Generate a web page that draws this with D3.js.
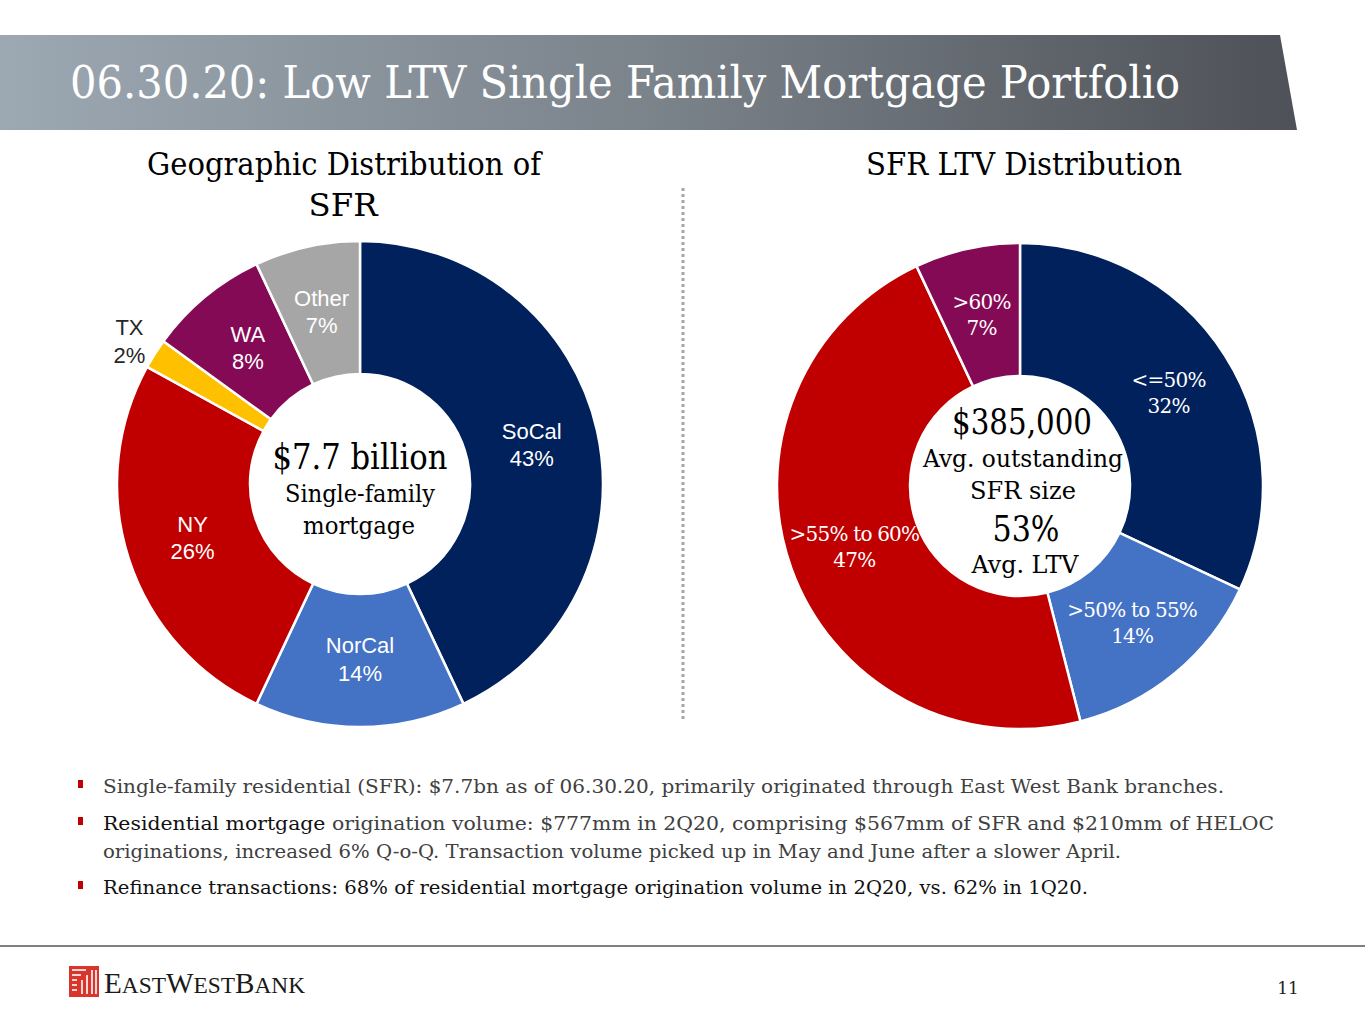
<!DOCTYPE html>
<html>
<head>
<meta charset="utf-8">
<script src="https://cdn.jsdelivr.net/npm/d3@7"></script>
<style>
  body { margin: 0; background: #fff; }
  svg { display: block; }
</style>
</head>
<body>
<svg id="slide" width="1365" height="1024"></svg>
<script>
// data
var geoLabels = ["SoCal", "NorCal", "NY", "TX", "WA", "Other"];
var geoValues = [43, 14, 26, 2, 8, 7];
var geoColors = ["#00215b", "#4472c4", "#c00000", "#ffc000", "#850a55", "#a6a6a6"];

var ltvLabels = ["<=50%", ">50% to 55%", ">55% to 60%", ">60%"];
var ltvValues = [32, 14, 47, 7];
var ltvColors = ["#00215b", "#4472c4", "#c00000", "#850a55"];

var bullets = [
  [["Single-family residential (SFR): $7.7bn as of 06.30.20, primarily originated through East West Bank branches.", "#404040"]],
  [["Residential mortgage", "#111"], [" origination volume: $777mm in 2Q20, comprising $567mm of SFR and $210mm of HELOC", "#404040"]],
  [["originations, increased 6% Q-o-Q. Transaction volume picked up in May and June after a slower April.", "#404040"]],
  [["Refinance transactions: 68% of residential mortgage origination volume in 2Q20, vs. 62% in 1Q20.", "#111"]]
];

var serif = "'DejaVu Serif', serif",
    sans = "'Liberation Sans', Arial, sans-serif";

var svg = d3.select("#slide");

// header band
var grad = svg.append("defs").append("linearGradient")
    .attr("id", "hdr").attr("x1", "0%").attr("x2", "100%").attr("y1", "0%").attr("y2", "0%");
grad.append("stop").attr("offset", "0%").attr("stop-color", "#9ca8b2");
grad.append("stop").attr("offset", "50%").attr("stop-color", "#7b838b");
grad.append("stop").attr("offset", "100%").attr("stop-color", "#4e5157");

svg.append("polygon")
    .attr("points", "0,35 1280,35 1297,130 0,130")
    .attr("fill", "url(#hdr)");

svg.append("text")
    .attr("x", 70).attr("y", 98)
    .attr("fill", "#fff")
    .attr("font-family", serif).attr("font-size", 44)
    .attr("textLength", 1110).attr("lengthAdjust", "spacingAndGlyphs")
    .text("06.30.20: Low LTV Single Family Mortgage Portfolio");

function txt(x, y, s, size, w, fill) {
  var t = svg.append("text")
      .attr("x", x).attr("y", y)
      .attr("text-anchor", "middle")
      .attr("font-family", serif).attr("font-size", size)
      .attr("fill", fill || "#000")
      .text(s);
  if (w) t.attr("textLength", w).attr("lengthAdjust", "spacingAndGlyphs");
  return t;
}

// panel titles
txt(344, 175, "Geographic Distribution of", 31, 394);
txt(343, 216, "SFR", 31, 69);
txt(1024, 175, "SFR LTV Distribution", 31, 316);

// divider
svg.append("line")
    .attr("x1", 683).attr("x2", 683).attr("y1", 188).attr("y2", 720)
    .attr("stroke", "#a6a6a6").attr("stroke-width", 3)
    .attr("stroke-dasharray", "3,3");

var outerR = 243, innerR = 110, labelR = 176;
var pie = d3.pie().sort(null).value(function (d) { return d; });
var arc = d3.arc().innerRadius(innerR).outerRadius(outerR);
var labelArc = d3.arc().innerRadius(labelR).outerRadius(labelR);
var outsideArc = d3.arc().innerRadius(273).outerRadius(273);

// left donut: geography
var g1 = svg.append("g").attr("transform", "translate(360,484)");
var geoArcs = pie(geoValues);
g1.selectAll("path").data(geoArcs).enter().append("path")
    .attr("d", arc)
    .attr("fill", function (d, i) { return geoColors[i]; })
    .attr("stroke", "#fff").attr("stroke-width", 2.5);

var gl = g1.selectAll(".lbl").data(geoArcs).enter().append("text")
    .attr("class", "lbl")
    .attr("transform", function (d, i) {
      var c = (geoLabels[i] === "TX" ? outsideArc : labelArc).centroid(d);
      return "translate(" + c + ")";
    })
    .attr("text-anchor", "middle")
    .attr("font-family", sans).attr("font-size", 22)
    .attr("fill", function (d, i) { return geoLabels[i] === "TX" ? "#262626" : "#fff"; });
gl.append("tspan").attr("x", 0)
    .attr("dy", function (d, i) { return geoLabels[i] === "TX" ? "-0.12em" : "-0.3em"; })
    .text(function (d, i) { return geoLabels[i]; });
gl.append("tspan").attr("x", 0).attr("dy", "1.25em").text(function (d) { return d.data + "%"; });

txt(360, 469, "$7.7 billion", 36, 175);
txt(360, 502, "Single-family", 25, 150);
txt(359, 534, "mortgage", 25, 112);

// right donut: LTV
var g2 = svg.append("g").attr("transform", "translate(1020,486)");
var ltvArcs = pie(ltvValues);
g2.selectAll("path").data(ltvArcs).enter().append("path")
    .attr("d", arc)
    .attr("fill", function (d, i) { return ltvColors[i]; })
    .attr("stroke", "#fff").attr("stroke-width", 2.5);

var ll = g2.selectAll(".lbl").data(ltvArcs).enter().append("text")
    .attr("class", "lbl")
    .attr("transform", function (d) { return "translate(" + labelArc.centroid(d) + ")"; })
    .attr("text-anchor", "middle")
    .attr("font-family", serif).attr("font-size", 20)
    .attr("letter-spacing", -0.8)
    .attr("fill", "#fff");
ll.append("tspan").attr("x", 0).attr("dy", "-0.25em").text(function (d, i) { return ltvLabels[i]; });
ll.append("tspan").attr("x", 0).attr("dy", "1.3em").text(function (d) { return d.data + "%"; });

// hole drawn over labels, as in the source
g2.append("circle").attr("r", innerR - 1).attr("fill", "#fff");

txt(1022, 434, "$385,000", 35, 140);
txt(1023, 467, "Avg. outstanding", 25, 200);
txt(1023, 499, "SFR size", 25, 106);
txt(1026, 541, "53%", 35, 67);
txt(1025, 573, "Avg. LTV", 25, 107);

// bullets
var lineY = [793, 830, 858, 894];
var lineW = [1121, 1171, 1018, 985];
var hasMark = [true, true, false, true];
bullets.forEach(function (parts, i) {
  if (hasMark[i]) {
    svg.append("rect").attr("x", 78).attr("y", lineY[i] - 13)
        .attr("width", 5).attr("height", 8).attr("fill", "#c00000");
  }
  var t = svg.append("text")
      .attr("x", 103).attr("y", lineY[i])
      .attr("font-family", serif).attr("font-size", 19)
      .attr("textLength", lineW[i]).attr("lengthAdjust", "spacingAndGlyphs");
  parts.forEach(function (p) {
    t.append("tspan").attr("fill", p[1]).text(p[0]);
  });
});

// footer
svg.append("line")
    .attr("x1", 0).attr("x2", 1365).attr("y1", 946).attr("y2", 946)
    .attr("stroke", "#808080").attr("stroke-width", 2);

var logo = svg.append("g").attr("transform", "translate(69,966)");
logo.append("rect").attr("width", 30).attr("height", 31).attr("fill", "#d9352c");
[[3, 4, 17, 4], [3, 9, 12, 9], [3, 14, 8, 14], [13, 14, 13, 28], [18, 9, 18, 28], [23, 4, 23, 28],
 [3, 19, 8, 19], [3, 24, 8, 24], [27, 4, 27, 28]].forEach(function (l) {
  logo.append("line").attr("x1", l[0]).attr("y1", l[1]).attr("x2", l[2]).attr("y2", l[3])
      .attr("stroke", "#fff").attr("stroke-width", 1.6);
});

var lt = svg.append("text")
    .attr("x", 104).attr("y", 993)
    .attr("font-family", "'Liberation Serif', serif")
    .attr("fill", "#1a1a1a")
    .attr("textLength", 201).attr("lengthAdjust", "spacingAndGlyphs");
[["E", 30], ["AST", 24], ["W", 30], ["EST", 24], ["B", 30], ["ANK", 24]].forEach(function (p) {
  lt.append("tspan").attr("font-size", p[1]).text(p[0]);
});

svg.append("text")
    .attr("x", 1288).attr("y", 994)
    .attr("text-anchor", "middle")
    .attr("font-family", serif).attr("font-size", 17)
    .attr("fill", "#222")
    .text("11");
</script>
</body>
</html>
